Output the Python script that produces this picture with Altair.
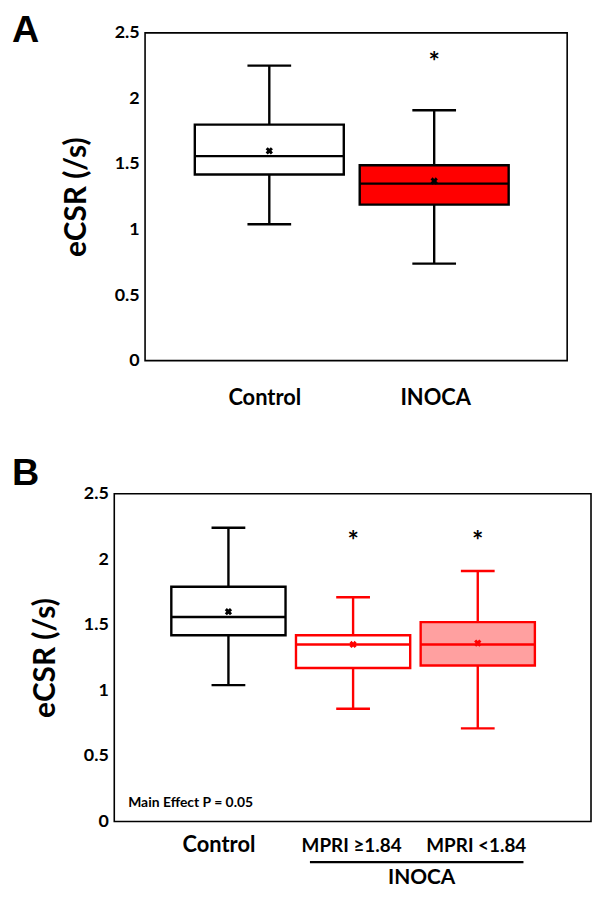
import altair as alt
import pandas as pd

# ---------------- data ----------------
# Panel A
a_groups = ["Control", "INOCA"]
a_low = [1.04, 0.74]
a_q1 = [1.42, 1.19]
a_median = [1.56, 1.35]
a_q3 = [1.80, 1.49]
a_high = [2.25, 1.91]
a_mean = [1.60, 1.37]
a_star = [None, 2.31]

# Panel B
b_groups = ["Control", "MPRI ≥1.84", "MPRI <1.84"]
b_low = [1.04, 0.86, 0.71]
b_q1 = [1.42, 1.17, 1.19]
b_median = [1.56, 1.35, 1.35]
b_q3 = [1.79, 1.42, 1.52]
b_high = [2.24, 1.71, 1.91]
b_mean = [1.60, 1.35, 1.36]
b_star = [None, 2.17, 2.17]

y_ticks = [0, 0.5, 1, 1.5, 2, 2.5]
y_title = "eCSR (/s)"
note_text = "Main Effect P = 0.05"
group_label = "INOCA"

# styles
a_fill = ["white", "#ff0000"]
a_line = ["black", "black"]
b_fill = ["white", "white", "#ffa0a0"]
b_line = ["black", "#ff0000", "#ff0000"]

FONT = "Lato"


def panel(groups, low, q1, med, q3, high, mean, star, fills, lines,
          width, pad, align, box_w, cap_w, letter, letter_x, letter_y,
          label_sizes, label_offsets, label_pad, x_title=None, extras=()):
    df = pd.DataFrame({"group": groups, "low": low, "q1": q1, "median": med,
                       "q3": q3, "high": high, "mean": mean, "star": star})

    size_cond = {"condition": {"test": f"datum.value === '{groups[0]}'", "value": label_sizes[0]},
                 "value": label_sizes[1]}
    off_cond = {"condition": {"test": f"datum.value === '{groups[0]}'", "value": label_offsets[0]},
                "value": label_offsets[1]}

    xaxis_kw = dict(domain=False, ticks=False, tickSize=0, labelAngle=0,
                    labelFont=FONT, labelFontWeight="bold", labelColor="black",
                    labelFontSize=size_cond, labelOffset=off_cond,
                    labelPadding=label_pad, labelBaseline="alphabetic")
    if x_title is not None:
        xaxis_kw.update(titleFont=FONT, titleFontWeight="bold", titleFontSize=21,
                        titleColor="black", titleX=x_title[0], titleY=x_title[1],
                        titleAlign="center", titleBaseline="alphabetic")
    x = alt.X("group:N", sort=groups,
              scale=alt.Scale(type="point", padding=pad, align=align),
              axis=alt.Axis(**xaxis_kw),
              title=x_title[2] if x_title is not None else None)

    yscale = alt.Scale(domain=[0, 2.5], nice=False, zero=True)
    yaxis = alt.Axis(values=y_ticks, format="~g", domain=False, ticks=False, tickSize=0,
                     grid=False, labelPadding=6, labelFont=FONT, labelFontWeight="bold",
                     labelFontSize=18, labelColor="black",
                     titleFont=FONT, titleFontWeight="bold", titleFontSize=30,
                     titleColor="black", titleX=-60, titleY=165, titleAngle=-90,
                     titleAlign="center", titleBaseline="alphabetic")

    def Y(field):
        return alt.Y(f"{field}:Q", scale=yscale, axis=yaxis, title=y_title)

    fill = alt.Fill("group:N", scale=alt.Scale(domain=groups, range=fills), legend=None)
    stroke = alt.Stroke("group:N", scale=alt.Scale(domain=groups, range=lines), legend=None)
    color = alt.Color("group:N", scale=alt.Scale(domain=groups, range=lines), legend=None)

    base = alt.Chart(df)
    whisk = base.mark_rule(strokeWidth=2.4).encode(x=x, y=Y("low"), y2="high:Q", color=color)
    box = base.mark_bar(size=box_w, strokeWidth=2.4).encode(
        x=x, y=Y("q1"), y2="q3:Q", fill=fill, stroke=stroke)
    medtick = base.mark_tick(size=box_w, thickness=2.4, opacity=1).encode(
        x=x, y=Y("median"), color=color)
    cap_lo = base.mark_tick(size=cap_w, thickness=2.4, opacity=1).encode(
        x=x, y=Y("low"), color=color)
    cap_hi = base.mark_tick(size=cap_w, thickness=2.4, opacity=1).encode(
        x=x, y=Y("high"), color=color)
    meanpt = base.mark_point(shape="cross", angle=45, filled=True, size=55, opacity=1).encode(
        x=x, y=Y("mean"), color=color)
    stars = base.transform_filter("isValid(datum.star)").mark_text(
        text="*", font=FONT, fontWeight="bold", fontSize=27, baseline="alphabetic",
        dy=13, color="black").encode(x=x, y=Y("star"))
    lett = alt.Chart(pd.DataFrame({"t": [letter]})).mark_text(
        font="Liberation Sans", fontWeight="bold", fontSize=38, align="left",
        baseline="top", color="black").encode(
        text="t:N", x=alt.value(letter_x), y=alt.value(letter_y))

    layers = [whisk, box, medtick, cap_lo, cap_hi, meanpt, stars, lett] + list(extras)
    return alt.layer(*layers).properties(
        width=width, height=330,
        view=alt.ViewBackground(stroke="black", strokeWidth=1.6))


note = alt.Chart(pd.DataFrame({"t": [note_text]})).mark_text(
    font=FONT, fontWeight="bold", fontSize=14, align="left", baseline="alphabetic",
    color="black").encode(text="t:N", x=alt.value(14), y=alt.value(315))
bracket = alt.Chart(pd.DataFrame({"k": [0]})).mark_rule(
    strokeWidth=2.4, color="black").encode(
    x=alt.value(197), x2=alt.value(412), y=alt.value(371))

chartA = panel(a_groups, a_low, a_q1, a_median, a_q3, a_high, a_mean, a_star,
               a_fill, a_line, width=425, pad=0.78, align=0.483,
               box_w=150, cap_w=44, letter="A", letter_x=-134, letter_y=-21,
               label_sizes=[22, 22], label_offsets=[-5, 1], label_pad=44)

chartB = panel(b_groups, b_low, b_q1, b_median, b_q3, b_high, b_mean, b_star,
               b_fill, b_line, width=480, pad=0.912, align=0.502,
               box_w=115, cap_w=34, letter="B", letter_x=-103, letter_y=-39,
               label_sizes=[22, 19], label_offsets=[-10, -2], label_pad=30,
               x_title=(309, 62, group_label), extras=(note, bracket))


def spacer():
    return alt.Chart(pd.DataFrame({"k": [0]})).mark_point(opacity=0, size=1).encode(
        x=alt.value(0), y=alt.value(0)).properties(
        width=1, height=1, view=alt.ViewBackground(stroke="transparent"))


chart = alt.vconcat(
    alt.hconcat(spacer(), chartA, spacing=0),
    alt.hconcat(spacer(), chartB, spacing=0),
    spacing=45,
).resolve_scale(
    color="independent", fill="independent", stroke="independent"
).properties(padding=0).configure_view(stroke="black")

chart.save("out.html", embed_options={"renderer": "svg", "actions": False})
